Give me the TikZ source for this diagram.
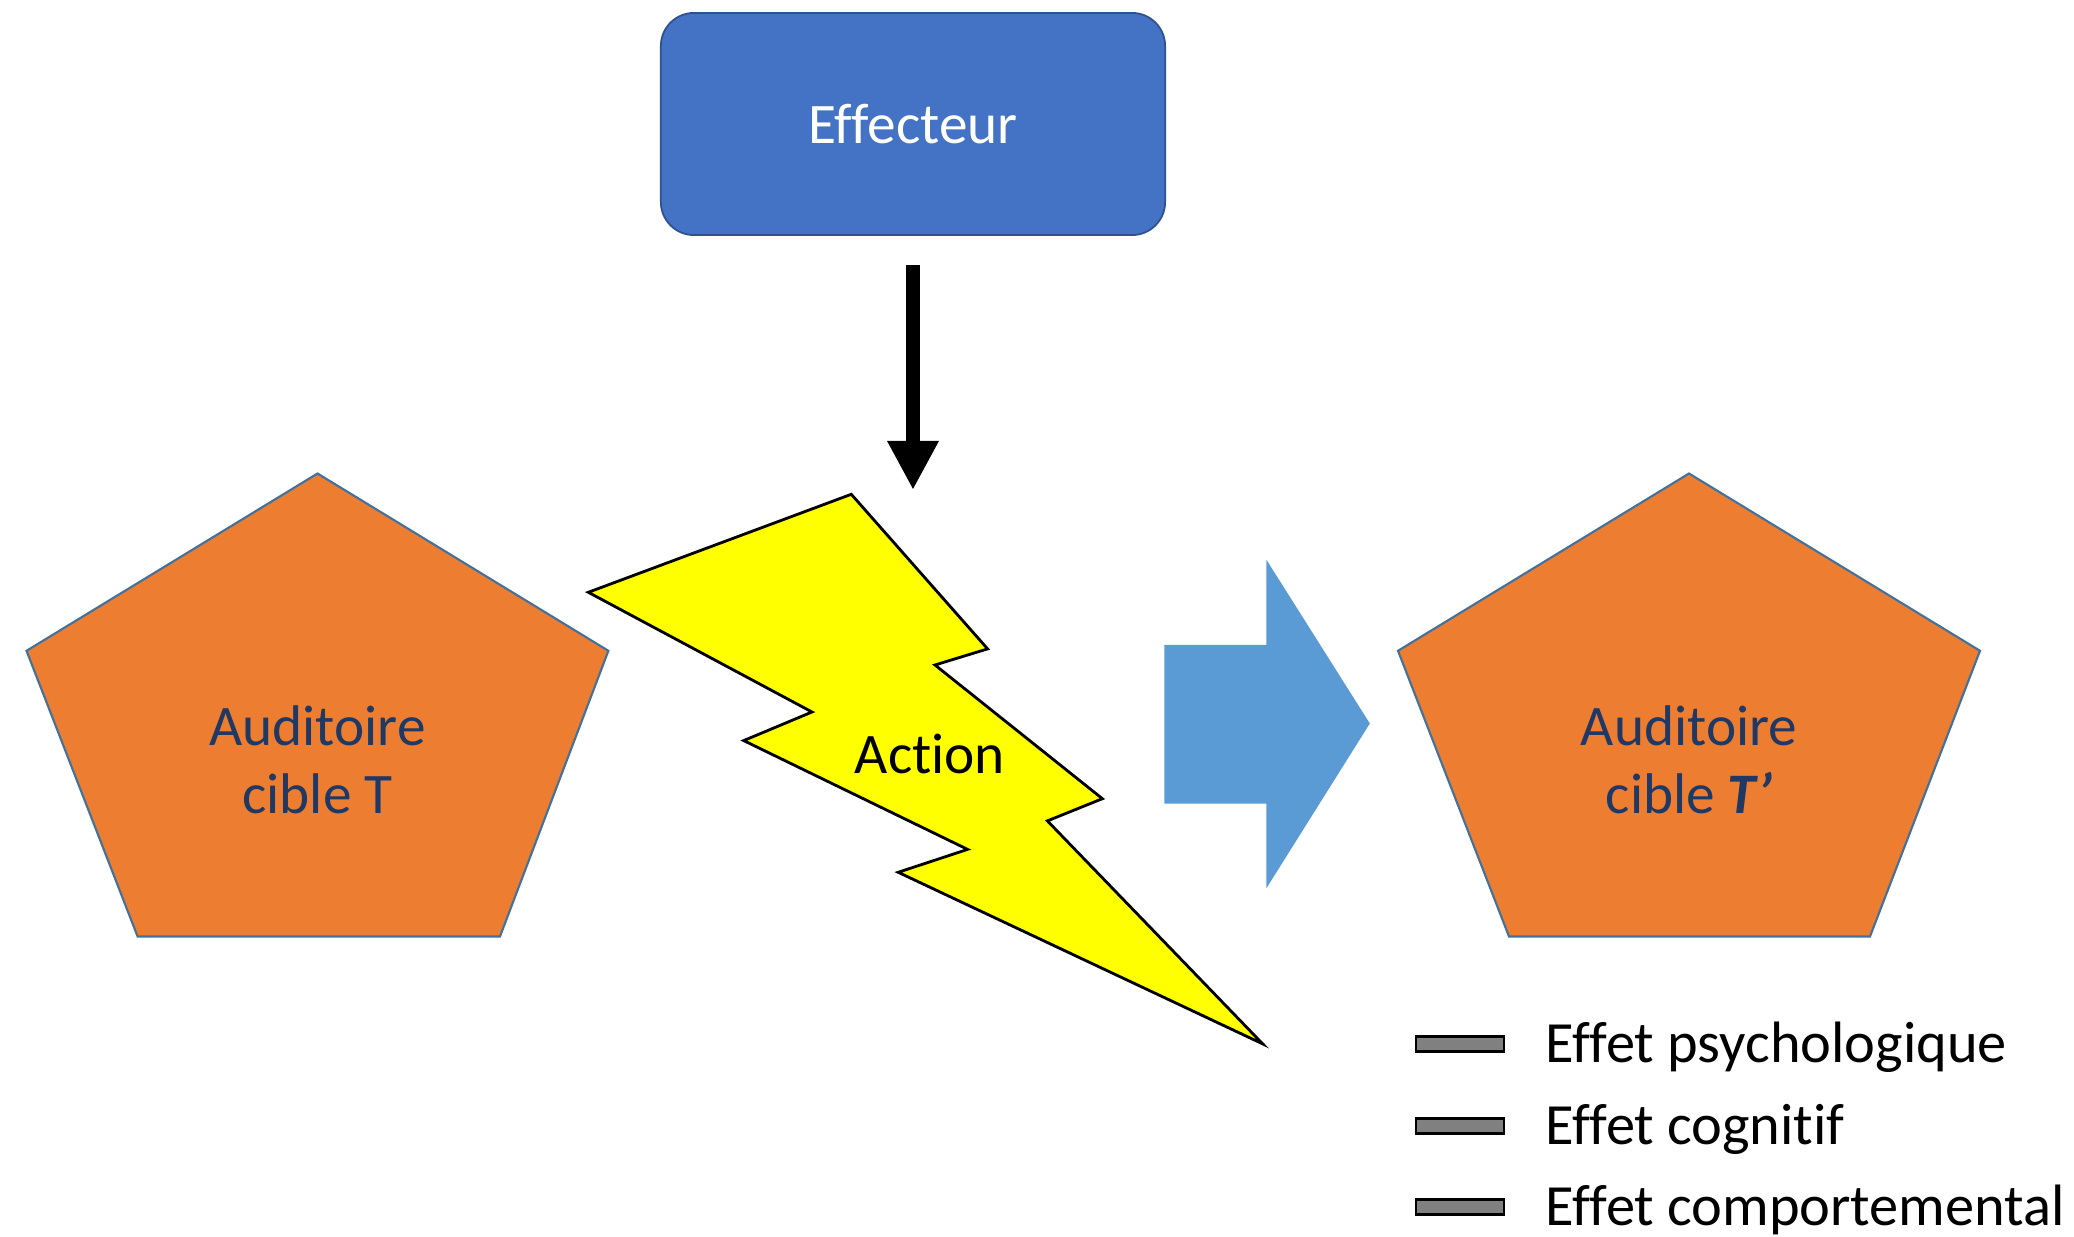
\documentclass[tikz,border=0pt]{standalone}
\usepackage{fontspec}
\setmainfont{Carlito}[Ligatures=NoCommon]
\usetikzlibrary{arrows.meta}
\definecolor{effblue}{HTML}{4472C4}
\definecolor{effborder}{HTML}{2F528F}
\definecolor{pentorange}{HTML}{ED7D31}
\definecolor{pentborder}{HTML}{41719C}
\definecolor{textnavy}{HTML}{1F3864}
\definecolor{arrowblue}{HTML}{5B9BD5}
\definecolor{boltyellow}{HTML}{FFFF00}
\definecolor{legendgray}{HTML}{808080}
\begin{document}
\begin{tikzpicture}[x=0.01cm,y=-0.01cm,
  every node/.style={font=\fontsize{16.3}{19.5}\selectfont},
  effbox/.style={draw=effborder,line width=0.5pt,fill=effblue,rounded corners=0.33cm,
    minimum width=5.04cm,minimum height=2.22cm,text=white},
  mainarrow/.style={line width=3.7pt,-{Triangle[width=0.48cm,length=0.49cm]}},
  pent/.style={fill=pentorange,draw=pentborder,line width=0.6pt},
  penttext/.style={text=textnavy,align=center,inner sep=0pt},
  bolt/.style={fill=boltyellow,draw=black,line width=0.8pt,line join=miter},
  blockarrow/.style={fill=arrowblue,draw=arrowblue,line width=0.4pt},
  legbar/.style={fill=legendgray,draw=black,line width=0.8pt,minimum width=0.88cm,minimum height=0.15cm,inner sep=0pt},
  legtext/.style={anchor=west,inner sep=0pt,font=\fontsize{16.6}{19.5}\selectfont}
]
\useasboundingbox (0,0) rectangle (2074,1237);

% Effecteur
\node[effbox] (eff) at (913,124) {Effecteur};
\coordinate (arrstart) at (913,265);
\coordinate (arrend) at (913,490);
\draw[mainarrow] (arrstart) -- (arrend);

% Left pentagon
\draw[pent] (317.5,473.5) -- (608.4,650.8) -- (500,936.5) -- (137.6,936.5) -- (26.5,650.8) -- cycle;
\node[penttext] (T) at (317.5,760) {Auditoire\\cible T};

% Right pentagon
\draw[pent] (1689,473.5) -- (1980,650.8) -- (1870,936.5) -- (1509,936.5) -- (1398,650.8) -- cycle;
\node[penttext] (Tp) at (1689,760) {Auditoire\\cible \textbf{\textit{T’}}};

% Lightning bolt
\draw[bolt] (851.3,494.3) -- (987.6,648.9) -- (935,665) -- (1102.4,798.7) -- (1047.4,820.9)
  -- (1262.7,1043.9) -- (898.2,872.3) -- (967.6,849.4) -- (743.7,740.6) -- (812,712)
  -- (588.3,592.3) -- cycle;
\node[inner sep=0pt] (action) at (930,754) {Action};

% Block arrow
\draw[blockarrow] (1165,645.5) -- (1267,645.5) -- (1267,562) -- (1369,723.5) -- (1267,886)
  -- (1267,803) -- (1165,803) -- cycle;

% Legend
\node[legbar] (b1) at (1460,1044) {};
\node[legbar] (b2) at (1460,1126) {};
\node[legbar] (b3) at (1460,1207) {};
\node[legtext] (l1) at (1545,1047) {Effet psychologique};
\node[legtext] (l2) at (1545,1129) {Effet cognitif};
\node[legtext] (l3) at (1545,1210) {Effet comportemental};
\end{tikzpicture}
\end{document}
